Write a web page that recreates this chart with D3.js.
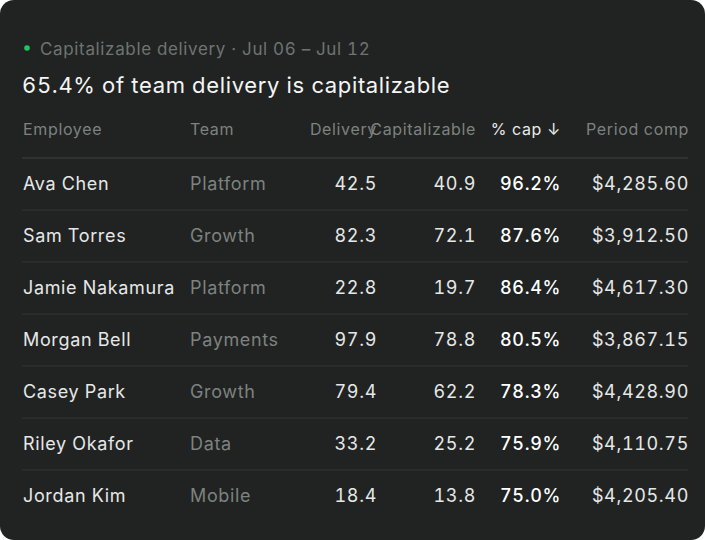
<!DOCTYPE html>
<html><head><meta charset="utf-8">
<script src="https://cdn.jsdelivr.net/npm/d3@7"></script>
<style>body{margin:0;background:#fff} text{font-variant-numeric:tabular-nums}</style>
</head><body>
<script>
var employees = ["Ava Chen","Sam Torres","Jamie Nakamura","Morgan Bell","Casey Park","Riley Okafor","Jordan Kim"];
var teams = ["Platform","Growth","Platform","Payments","Growth","Data","Mobile"];
var delivery = [42.5,82.3,22.8,97.9,79.4,33.2,18.4];
var capitalizable = [40.9,72.1,19.7,78.8,62.2,25.2,13.8];
var pctCap = [96.2,87.6,86.4,80.5,78.3,75.9,75.0];
var periodComp = [4285.60,3912.50,4617.30,3867.15,4428.90,4110.75,4205.40];
var headers = ["Employee","Team","Delivery","Capitalizable","% cap \u2193","Period comp"];

var W = 705, H = 540;
var svg = d3.select("body").append("svg").attr("width", W).attr("height", H)
  .style("font-family", "Inter, sans-serif").style("letter-spacing", "0.65px");
svg.append("rect").attr("width", W).attr("height", H).attr("rx", 14).attr("fill", "#202322");

svg.append("circle").attr("cx", 27).attr("cy", 48).attr("r", 2.8).attr("fill", "#22c55e");
svg.append("text").attr("x", 40).attr("y", 55).attr("font-size", 17).attr("fill", "#6f7471")
  .text("Capitalizable delivery \u00b7 Jul 06 \u2013 Jul 12");
svg.append("text").attr("x", 22).attr("y", 93).attr("font-size", 22).attr("fill", "#f4f5f4")
  .text("65.4% of team delivery is capitalizable");

var cols = [
  {x: 23, anchor: "start"}, {x: 190, anchor: "start"}, {x: 377, anchor: "end"},
  {x: 476, anchor: "end"}, {x: 561, anchor: "end"}, {x: 689, anchor: "end"}
];

svg.selectAll("text.h").data(headers).enter().append("text").attr("class", "h")
  .attr("x", function(d, i){ return cols[i].x; })
  .attr("text-anchor", function(d, i){ return cols[i].anchor; })
  .attr("y", 135).attr("font-size", 16)
  .attr("fill", function(d, i){ return i == 4 ? "#e8eae9" : "#7d827f"; })
  .text(function(d){ return d; });

var y = d3.scaleBand().domain(d3.range(employees.length)).range([158, 522]);
var fmt1 = d3.format(".1f"), fmtMoney = d3.format("$,.2f");

svg.selectAll("line.sep").data(d3.range(employees.length)).enter().append("line")
  .attr("x1", 22).attr("x2", 688)
  .attr("y1", function(d){ return y(d); }).attr("y2", function(d){ return y(d); })
  .attr("stroke", function(d){ return d == 0 ? "#333836" : "#2c302e"; }).attr("stroke-width", 1.5);

var rows = svg.selectAll("g.row").data(d3.range(employees.length)).enter().append("g")
  .attr("transform", function(d){ return "translate(0," + (y(d) + y.bandwidth() / 2 + 6) + ")"; });

rows.each(function(i){
  var g = d3.select(this);
  var vals = [employees[i], teams[i], fmt1(delivery[i]), fmt1(capitalizable[i]), fmt1(pctCap[i]) + "%", fmtMoney(periodComp[i])];
  vals.forEach(function(v, j){
    g.append("text").attr("x", cols[j].x).attr("text-anchor", cols[j].anchor)
      .attr("font-size", 18)
      .attr("font-weight", j == 4 ? 500 : 400)
      .attr("fill", j == 1 ? "#7d827f" : (j == 4 ? "#ffffff" : "#e6e8e7"))
      .text(v);
  });
});
</script>
</body></html>
